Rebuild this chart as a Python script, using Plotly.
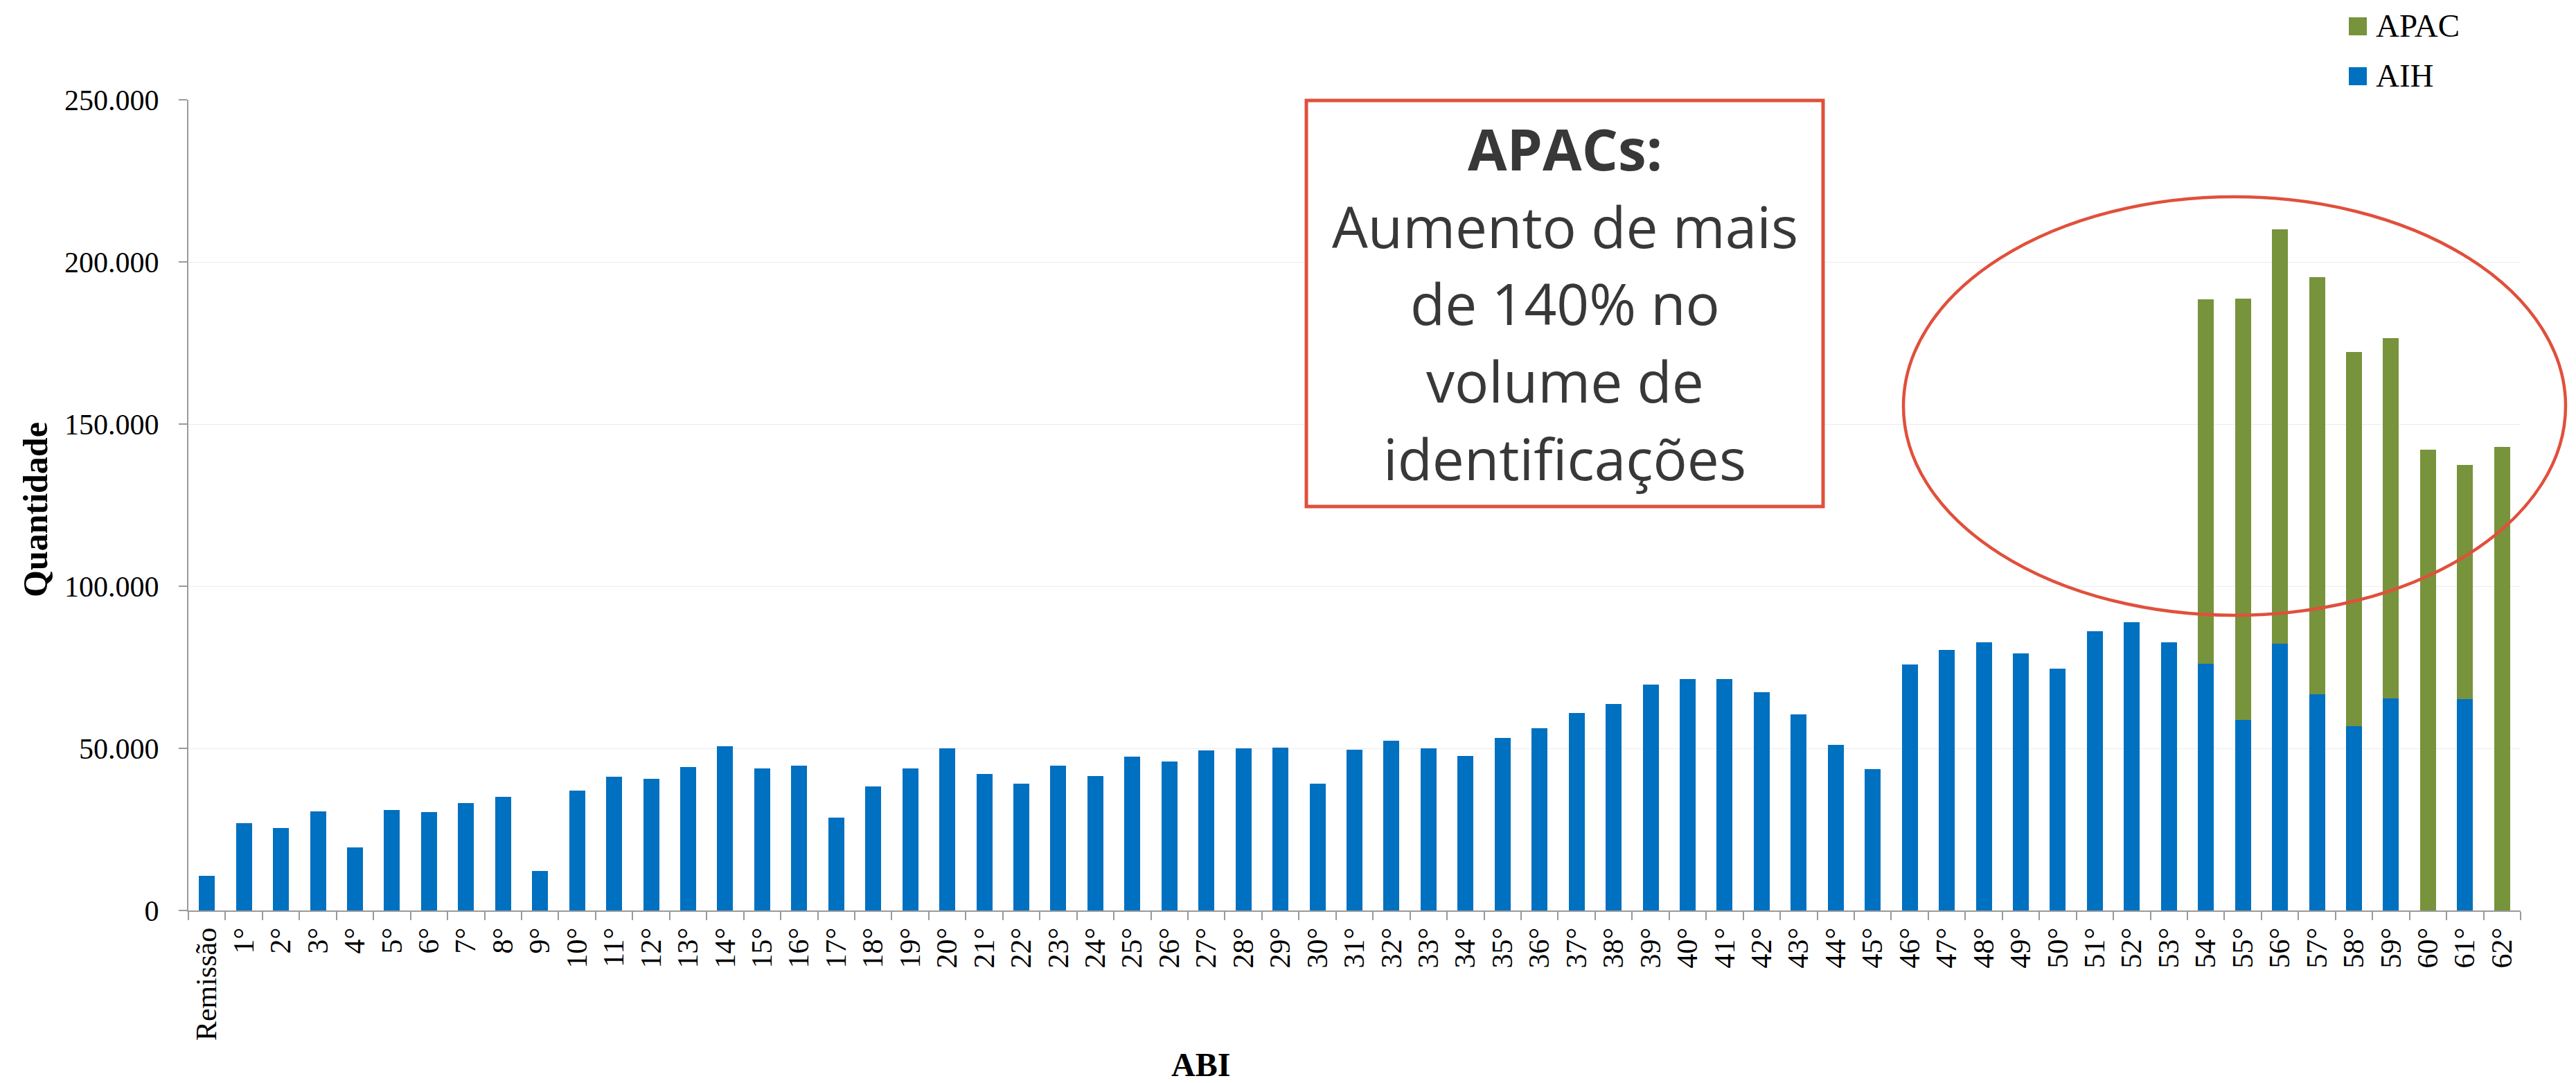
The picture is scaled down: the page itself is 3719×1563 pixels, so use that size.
import plotly.graph_objects as go

# ---------------- data ----------------
categories = ["Remissão"] + [f"{i}°" for i in range(1, 63)]

aih = [
    10600, 27000, 25400, 30500, 19400, 31000, 30400, 33100, 35000, 12200,
    36900, 41200, 40700, 44300, 50600, 43700, 44600, 28600, 38200, 43700,
    49900, 42000, 39000, 44600, 41500, 47400, 45900, 49300, 50100, 50300,
    39000, 49600, 52400, 50100, 47600, 53100, 56100, 61000, 63600, 69600,
    71300, 71300, 67400, 60400, 51000, 43600, 75900, 80400, 82700, 79300,
    74500, 86100, 88900, 82600, 76000, 58800, 82200, 66700, 56900, 65400,
    0, 65100, 0,
]

apac = [0] * 54 + [112400, 129900, 127800, 128700, 115400, 111200, 142200, 72400, 142900]

y_ticks = [0, 50000, 100000, 150000, 200000, 250000]

box_lines = ["<b>APACs:</b>", "Aumento de mais", "de 140% no", "volume de", "identificações"]

# ---------------- layout helpers (pixel -> paper) ----------------
W, H = 3719, 1563
L, R, T, B = 264, 3631, 136, 1306


def px(x):
    return (x - L) / (R - L)


def py(y):
    return (B - y) / (B - T)


BLUE = "#0070C0"
GREEN = "#77933C"
RED = "#E0503C"
SERIF = "Liberation Serif"

fig = go.Figure()
fig.add_trace(go.Bar(x=categories, y=aih, name="AIH", marker=dict(color=BLUE, line=dict(width=0))))
fig.add_trace(go.Bar(x=categories, y=apac, name="APAC", marker=dict(color=GREEN, line=dict(width=0))))

fig.update_layout(
    width=W, height=H,
    margin=dict(l=L, r=W - R, t=T, b=H - B, autoexpand=False),
    barmode="stack",
    bargap=0.57,
    showlegend=False,
    plot_bgcolor="white",
    paper_bgcolor="white",
    separators=",.",
    font=dict(family=SERIF, color="black"),
)

fig.update_xaxes(
    type="category",
    showline=True, linecolor="#9a9a9a", linewidth=2,
    ticks="outside", tickson="boundaries", ticklen=12, tickcolor="#9a9a9a", tickwidth=2,
    tickangle=-90,
    tickfont=dict(family=SERIF, size=42, color="black"),
    ticklabelstandoff=6,
    showgrid=False,
)
fig.update_yaxes(
    range=[0, 250000],
    tickvals=y_ticks,
    tickformat=",d",
    showline=True, linecolor="#9a9a9a", linewidth=2,
    ticks="outside", ticklen=12, tickcolor="#9a9a9a", tickwidth=2,
    tickfont=dict(family=SERIF, size=42, color="black"),
    ticklabelstandoff=20,
    showgrid=True, gridcolor="#ececec", gridwidth=1,
    zeroline=False,
)

shapes = []
annotations = []

# annotation box
shapes.append(dict(type="rect", xref="paper", yref="paper",
                   x0=px(1878), x1=px(2624), y0=py(723), y1=py(137),
                   line=dict(color=RED, width=5), fillcolor="white", layer="above"))
baselines = [236.6, 348.5, 460, 572, 683.5]
for txt, bl in zip(box_lines, baselines):
    annotations.append(dict(xref="paper", yref="paper", x=px(2251), y=py(bl - 31),
                            text=txt, showarrow=False, xanchor="center", yanchor="middle",
                            font=dict(family="Open Sans", size=82, color="#383838")))

# ellipse highlight
shapes.append(dict(type="circle", xref="paper", yref="paper",
                   x0=px(2740), x1=px(3696), y0=py(880), y1=py(276),
                   line=dict(color=RED, width=4.5), layer="above"))

# legend (manual)
legend_items = [("APAC", GREEN, 17, 29), ("AIH", BLUE, 89, 101)]
for name, col, top, mid in legend_items:
    shapes.append(dict(type="rect", xref="paper", yref="paper",
                       x0=px(3383), x1=px(3409), y0=py(top + 26), y1=py(top),
                       line=dict(width=0), fillcolor=col))
    annotations.append(dict(xref="paper", yref="paper", x=px(3420), y=py(mid),
                            text=name, showarrow=False, xanchor="left", yanchor="middle",
                            font=dict(family=SERIF, size=47, color="black")))

# axis titles
annotations.append(dict(xref="paper", yref="paper", x=px(43), y=py(728),
                        text="<b>Quantidade</b>", textangle=-90, showarrow=False,
                        xanchor="center", yanchor="middle",
                        font=dict(family=SERIF, size=50, color="black")))
annotations.append(dict(xref="paper", yref="paper", x=px(1725), y=py(1528),
                        text="<b>ABI</b>", showarrow=False,
                        xanchor="center", yanchor="middle",
                        font=dict(family=SERIF, size=48, color="black")))

fig.update_layout(shapes=shapes, annotations=annotations)

fig.write_html("out.html")
